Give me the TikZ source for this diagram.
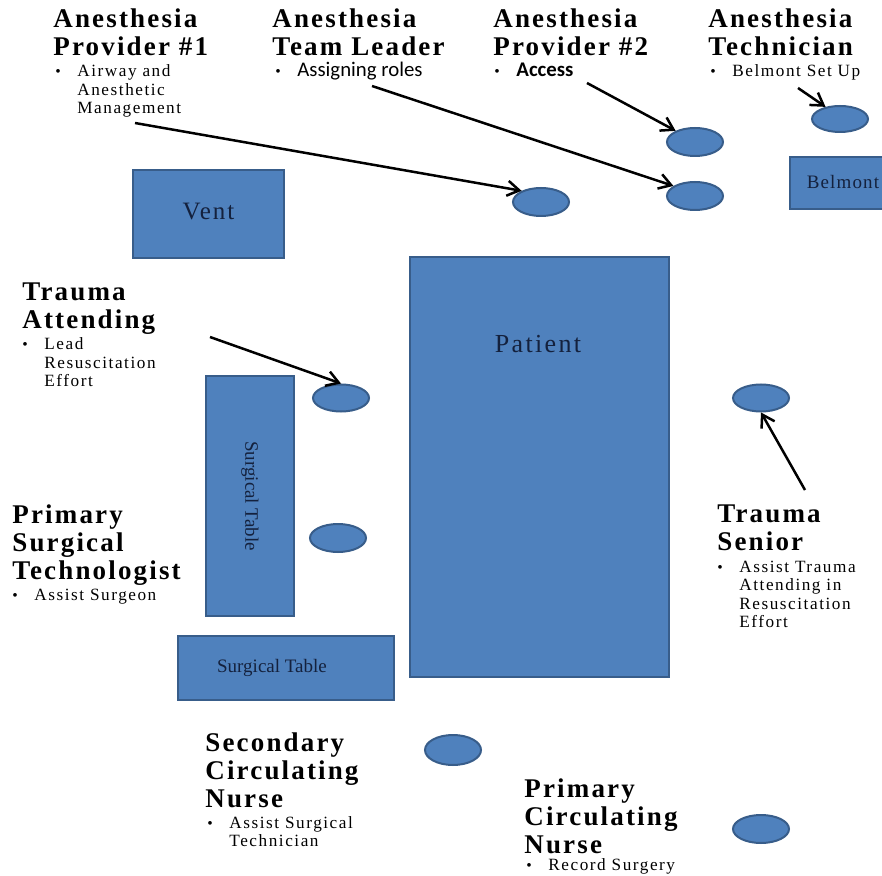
\documentclass[tikz,border=0pt]{standalone}
\usepackage{fontspec}
\setmainfont{Liberation Serif}
\newfontfamily\calibriFont{Carlito}
\usetikzlibrary{shapes.geometric,arrows.meta}

\definecolor{equipFill}{HTML}{4F81BD}
\definecolor{equipLine}{HTML}{385D8A}
\definecolor{equipText}{HTML}{14213D}

\def \headFont {\fontsize{13.5}{14}\selectfont\bfseries\addfontfeature{LetterSpace=8}}
\def \taskFont {\fontsize{8.6}{9.25}\selectfont\addfontfeature{LetterSpace=9}}
\def \sansTaskFont {\calibriFont\fontsize{10.4}{9.25}\selectfont}
\def \bulletGap {11pt}

\newcommand\roleTitle[1]{\begin{tabular}[t]{@{}l@{}}#1\end{tabular}}
\newcommand\taskList[1]{\begin{tabular}[t]{@{}p{\bulletGap}@{}l@{}}{\normalfont\fontsize{7.8}{9}\selectfont\textbullet} & #1\end{tabular}}

\tikzset{
  equip/.style={draw=equipLine, fill=equipFill, line width=1pt, text=equipText, inner sep=0pt},
  equipLabel/.style={text=equipText, inner sep=0pt},
  staff/.style={ellipse, draw=equipLine, fill=equipFill, line width=1pt,
    minimum width=28pt, minimum height=14pt, inner sep=0pt},
  heading/.style={anchor=base west, inner sep=0pt, font=\headFont},
  task/.style={anchor=base west, inner sep=0pt, font=\taskFont},
  pointer/.style={-{Straight Barb[length=6pt,width=7.5pt]}, line width=1.25pt},
}

\begin{document}
\begin{tikzpicture}[x=0.5pt,y=-0.5pt]
         \useasboundingbox (0,0) rectangle (882,876);
         \fill[white] (0,0) rectangle (882,876);

         % room equipment
         \node[equip, minimum width=75.5pt, minimum height=44pt, font=\fontsize{12.5}{14}\selectfont\addfontfeature{LetterSpace=8}] (vent) at (208.5,214) {\raisebox{3pt}{Vent}};
         \node[equip, minimum width=129.5pt, minimum height=210pt] (patient) at (539.5,467) {};
         \node[equipLabel, font=\fontsize{13}{14}\selectfont\addfontfeature{LetterSpace=9}] (patientText) at (538,344) {Patient};
         \node[equip, minimum width=120pt, minimum height=44pt, rotate=-90, font=\fontsize{9.5}{11}\selectfont] (tableV) at (250,496) {Surgical Table};
         \node[equip, minimum width=108pt, minimum height=32pt] (tableH) at (286,668) {};
         \node[equipLabel, font=\fontsize{9.5}{11}\selectfont] (tableHText) at (272,668) {Surgical Table};
         \node[equip, minimum width=60pt, minimum height=26pt] (belmont) at (850,183) {};
         \node[equipLabel, font=\fontsize{9.5}{11}\selectfont\addfontfeature{LetterSpace=6}] (belmontText) at (843,182) {Belmont};

         % staff positions
         \node[staff] (posAP1) at (541,202) {};
         \node[staff] (posAP2) at (695,142) {};
         \node[staff] (posTL) at (695,196) {};
         \node[staff, minimum height=13pt] (posTech) at (840,119) {};
         \node[staff, minimum height=13.5pt] (posTA) at (341,398) {};
         \node[staff] (posPST) at (338,538) {};
         \node[staff, minimum height=13.5pt] (posTS) at (761,398) {};
         \node[staff, minimum height=15pt] (posSCN) at (453,750) {};
         \node[staff] (posPCN) at (761,829) {};

         % roles
         \node[heading] (ap1) at (53,28) {\roleTitle{Anesthesia\\Provider \#1}};
         \node[task] (ap1Task) at (55,77) {\taskList{Airway and\\ & Anesthetic\\ & Management}};
         \node[heading] (tl) at (272,28) {\roleTitle{Anesthesia\\Team Leader}};
         \node[task, font=\sansTaskFont] (tlTask) at (275,77) {\taskList{Assigning roles}};
         \node[heading] (ap2) at (493,28) {\roleTitle{Anesthesia\\Provider \#2}};
         \node[task, font=\sansTaskFont\bfseries] (ap2Task) at (494,77) {\taskList{Access}};
         \node[heading] (tech) at (708,28) {\roleTitle{Anesthesia\\Technician}};
         \node[task] (techTask) at (710,77) {\taskList{Belmont Set Up}};
         \node[heading] (ta) at (22,301) {\roleTitle{Trauma\\Attending}};
         \node[task] (taTask) at (22,350) {\taskList{Lead\\ & Resuscitation\\ & Effort}};
         \node[heading] (pst) at (12,523) {\roleTitle{Primary\\Surgical\\Technologist}};
         \node[task] (pstTask) at (12,600) {\taskList{Assist Surgeon}};
         \node[heading] (ts) at (717,522) {\roleTitle{Trauma\\Senior}};
         \node[task] (tsTask) at (717,572) {\taskList{Assist Trauma\\ & Attending in\\ & Resuscitation\\ & Effort}};
         \node[heading] (scn) at (205,751) {\roleTitle{Secondary\\Circulating\\Nurse}};
         \node[task] (scnTask) at (207,828) {\taskList{Assist Surgical\\ & Technician}};
         \node[heading] (pcn) at (524,797) {\roleTitle{Primary\\Circulating\\Nurse}};
         \node[task] (pcnTask) at (526,870) {\taskList{Record Surgery}};

         % arrows to positions
         \coordinate (ap1From) at (135,123);
         \coordinate (tlFrom) at (372,86);
         \coordinate (ap2From) at (587,83);
         \coordinate (techFrom) at (798,88);
         \coordinate (taFrom) at (210,337);
         \coordinate (tsFrom) at (805,490);
         \draw[pointer] (ap1From) -- (posAP1.150);
         \draw[pointer] (tlFrom) -- (posTL.155);
         \draw[pointer] (ap2From) -- (posAP2.150);
         \draw[pointer] (techFrom) -- (posTech.140);
         \draw[pointer] (taFrom) -- (posTA.north);
         \draw[pointer] (tsFrom) -- (posTS.south);
      \end{tikzpicture}
\end{document}
